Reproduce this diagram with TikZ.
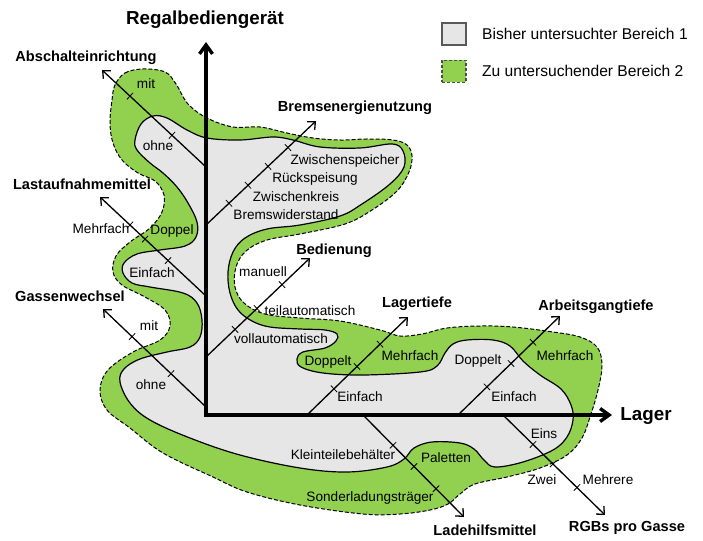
\documentclass[tikz,border=0pt]{standalone}
\usepackage{fontspec}
\setmainfont{Liberation Sans}
\usetikzlibrary{arrows.meta}
\definecolor{grayfill}{HTML}{E6E6E6}
\definecolor{greenfill}{HTML}{92D050}
\begin{document}
\begin{tikzpicture}[x=1pt,y=-1pt,
  lbl/.style={font=\fontsize{13.6}{15}\selectfont, inner sep=0pt, text height=0.62em, text depth=0pt},
  axlbl/.style={font=\bfseries\fontsize{14.6}{16}\selectfont, inner sep=0pt, text height=0.62em, text depth=0pt},
  mainlbl/.style={font=\bfseries\fontsize{18.8}{20}\selectfont, inner sep=0pt, text height=0.62em, text depth=0pt},
  legtxt/.style={font=\fontsize{15.6}{17}\selectfont, inner sep=0pt, anchor=west, text height=0.62em, text depth=0pt},
  diag/.style={line width=1.3pt, -{Straight Barb[length=6pt,width=11pt]}},
  mainax/.style={line width=3.4pt, line join=miter, {Straight Barb[length=9pt,width=13pt]}-{Straight Barb[length=9pt,width=13pt]}},
  tickm/.style={draw, line width=0.8pt, minimum width=0pt, minimum height=9pt, inner sep=0pt, sloped, shape=rectangle},
  greenblob/.style={fill=greenfill, draw=black, line width=1pt, dash pattern=on 4pt off 2pt},
  grayblob/.style={fill=grayfill, draw=black, line width=1.2pt},
  legbox/.style={minimum width=24pt, minimum height=22pt, inner sep=0pt, line width=1.3pt}
]
\useasboundingbox (0,0) rectangle (703,540);

% regions
\path[greenblob] plot[smooth cycle, tension=0.6] coordinates {
(115,85) (125,73) (143,69) (165,72) (176,84) (188,104) (207,118) (233,127) (260,127) (287,133) (313,138) (340,140) (367,139) (393,140) (407,145) (412,156) (409,172) (397,191) (372,210) (345,224) (300,234) (267,240) (246,251) (236,267) (235,287) (244,303) (265,314) (300,318) (340,321) (380,330) (400,336) (422,334) (447,328) (480,326) (513,327) (553,332) (580,337) (597,347) (602,365) (598,390) (590,417) (582,438) (567,455) (540,468) (507,477) (475,484) (460,494) (448,504) (430,510) (400,514) (363,514) (300,505) (247,492) (213,477) (163,453) (130,428) (107,410) (100,390) (108,370) (133,352) (160,340) (170,326) (165,310) (145,297) (122,285) (113,272) (116,256) (130,242) (150,228) (162,212) (164,195) (155,181) (138,173) (122,160) (113,143) (110,123) (112,100)};

\path[grayblob] plot[smooth cycle, tension=0.6] coordinates {
(135,140) (141,124) (153,116) (167,118) (187,130) (207,138) (240,140) (273,137) (293,140) (320,147) (360,148) (392,144) (403,151) (404,167) (390,184) (362,204) (340,216) (300,225) (267,229) (245,238) (233,252) (228,272) (230,293) (238,310) (252,321) (270,327) (300,329) (325,330) (337,334) (336,341) (325,348) (303,352) (297,359) (301,367) (323,373) (363,375) (420,372) (437,366) (445,353) (453,344) (467,340) (493,340) (510,346) (523,361) (540,375) (561,389) (571,405) (573,420) (567,437) (553,450) (523,462) (495,467) (484,460) (474,449) (460,443) (432,442) (414,448) (404,459) (387,467) (347,472) (300,468) (240,455) (190,438) (150,420) (130,403) (120,382) (124,369) (140,359) (167,352) (190,347) (200,337) (202,320) (197,303) (183,293) (150,287) (132,283) (123,273) (124,263) (137,254) (160,250) (185,246) (196,237) (197,222) (188,203) (177,187) (163,173) (150,163) (137,150)};

% coordinates
\coordinate (O) at (206,415);
\coordinate (Ytip) at (206,42);
\coordinate (Xtip) at (612,415);
\coordinate (A0) at (206,167); \coordinate (A1) at (102,70);
\coordinate (B0) at (206,225); \coordinate (B1) at (316,121);
\coordinate (L0) at (206,296); \coordinate (L1) at (100,197);
\coordinate (G0) at (206,407); \coordinate (G1) at (103,309);
\coordinate (D0) at (206,357); \coordinate (D1) at (310,258);
\coordinate (T0) at (307,415); \coordinate (T1) at (408,317);
\coordinate (W0) at (458,415); \coordinate (W1) at (560,316);
\coordinate (R0) at (503,415); \coordinate (R1) at (605,515);
\coordinate (H0) at (363,415); \coordinate (H1) at (464,517);

% diagonal axes with ticks
\draw[diag] (A0) -- (A1) node[tickm,pos=0.327]{} node[tickm,pos=0.731]{};
\draw[diag] (B0) -- (B1) node[tickm,pos=0.209]{} node[tickm,pos=0.382]{} node[tickm,pos=0.564]{} node[tickm,pos=0.745]{};
\draw[diag] (L0) -- (L1) node[tickm,pos=0.358]{} node[tickm,pos=0.575]{} node[tickm,pos=0.717]{};
\draw[diag] (G0) -- (G1) node[tickm,pos=0.34]{} node[tickm,pos=0.718]{};
\draw[diag] (D0) -- (D1) node[tickm,pos=0.279]{} node[tickm,pos=0.49]{} node[tickm,pos=0.731]{};
\draw[diag] (T0) -- (T1) node[tickm,pos=0.267]{} node[tickm,pos=0.495]{} node[tickm,pos=0.723]{};
\draw[diag] (W0) -- (W1) node[tickm,pos=0.284]{} node[tickm,pos=0.52]{} node[tickm,pos=0.735]{};
\draw[diag] (R0) -- (R1) node[tickm,pos=0.294]{} node[tickm,pos=0.49]{} node[tickm,pos=0.725]{};
\draw[diag] (H0) -- (H1) node[tickm,pos=0.297]{} node[tickm,pos=0.505]{} node[tickm,pos=0.723]{};

% main axes
\draw[mainax] (Ytip) -- (O) -- (Xtip);

% main labels
\node[mainlbl] (regal) at (205,21) {Regalbediengerät};
\node[mainlbl] (lager) at (646,417) {Lager};

% axis labels
\node[axlbl] (absch) at (86,58) {Abschalteinrichtung};
\node[axlbl] (brems) at (355,108) {Bremsenergienutzung};
\node[axlbl] (lasta) at (82,186) {Lastaufnahmemittel};
\node[axlbl] (gasse) at (70,298) {Gassenwechsel};
\node[axlbl] (bedien) at (334,251) {Bedienung};
\node[axlbl] (ltief) at (417,304) {Lagertiefe};
\node[axlbl] (agang) at (596,307) {Arbeitsgangtiefe};
\node[axlbl] (ladeh) at (485,532) {Ladehilfsmittel};
\node[axlbl] (rgbs) at (627,528) {RGBs pro Gasse};

% value labels
\node[lbl] (a1) at (158,147) {ohne};
\node[lbl] (a2) at (146,85) {mit};
\node[lbl] (b1) at (286,216) {Bremswiderstand};
\node[lbl] (b2) at (296,198) {Zwischenkreis};
\node[lbl] (b3) at (315,179) {Rückspeisung};
\node[lbl] (b4) at (345,161) {Zwischenspeicher};
\node[lbl] (l1) at (101,230) {Mehrfach};
\node[lbl] (l2) at (172,231) {Doppel};
\node[lbl] (l3) at (152,274) {Einfach};
\node[lbl] (g1) at (149,327) {mit};
\node[lbl] (g2) at (151,386) {ohne};
\node[lbl] (d1) at (263,273) {manuell};
\node[lbl] (d2) at (310,312) {teilautomatisch};
\node[lbl] (d3) at (281,340) {vollautomatisch};
\node[lbl] (t1) at (328,362) {Doppelt};
\node[lbl] (t2) at (410,357) {Mehrfach};
\node[lbl] (t3) at (360,398) {Einfach};
\node[lbl] (w1) at (478,361) {Doppelt};
\node[lbl] (w2) at (565,357) {Mehrfach};
\node[lbl] (w3) at (514,398) {Einfach};
\node[lbl] (r1) at (544,435) {Eins};
\node[lbl] (r2) at (542,481) {Zwei};
\node[lbl] (r3) at (608,481) {Mehrere};
\node[lbl] (h1) at (343,456) {Kleinteilebehälter};
\node[lbl] (h2) at (446,459) {Paletten};
\node[lbl] (h3) at (370,498) {Sonderladungsträger};

% legend
\node[legbox, fill=grayfill, draw=black!65] (leg1) at (454,34) {};
\node[legtxt] (legt1) at (482,36) {Bisher untersuchter Bereich 1};
\node[legbox, fill=greenfill, draw=black!70, dash pattern=on 3pt off 2pt] (leg2) at (454,71.5) {};
\node[legtxt] (legt2) at (482,73) {Zu untersuchender Bereich 2};
\end{tikzpicture}
\end{document}
